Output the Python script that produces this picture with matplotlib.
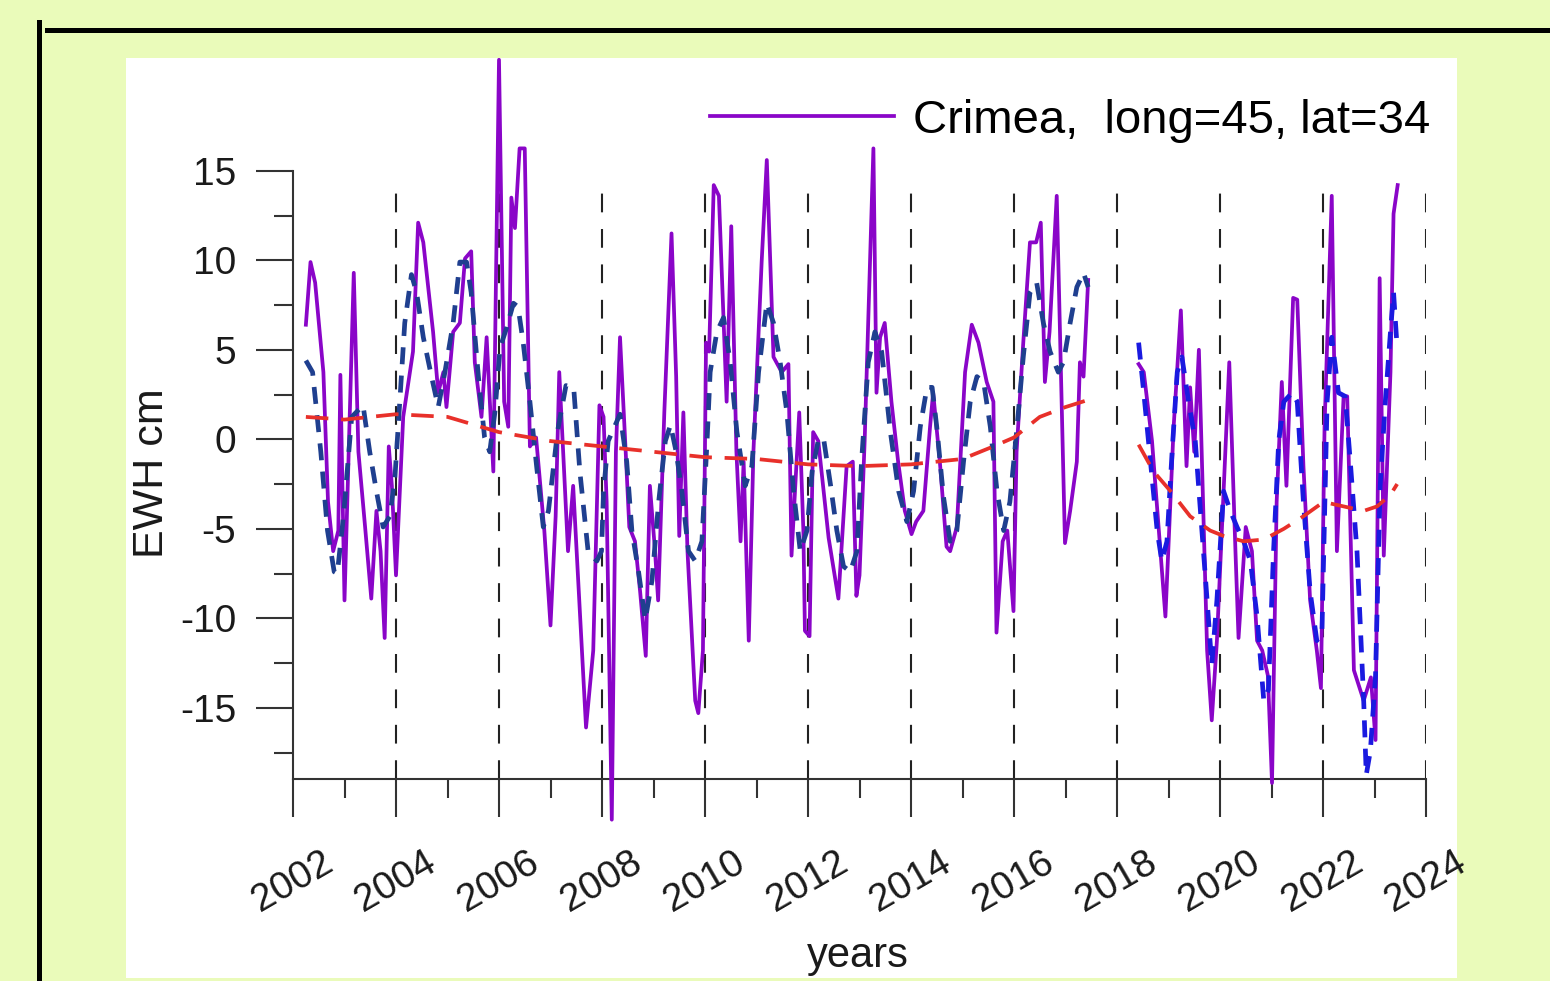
import matplotlib.pyplot as plt
import numpy as np
from matplotlib.lines import Line2D
from matplotlib.patches import Rectangle

plt.rcParams['font.family'] = ['Liberation Sans', 'DejaVu Sans']
plt.rcParams['axes.unicode_minus'] = False

# GRACE part (2002-2017), monthly EWH, cm
t1 = [2002.25, 2002.34, 2002.43, 2002.59, 2002.68, 2002.78, 2002.88, 2002.92, 2003.0, 2003.18,
      2003.27, 2003.4, 2003.52, 2003.62, 2003.7, 2003.78, 2003.86, 2003.92, 2004.0, 2004.14,
      2004.33, 2004.43, 2004.53, 2004.72, 2004.82, 2004.92, 2004.98, 2005.11, 2005.24, 2005.34,
      2005.46, 2005.53, 2005.66, 2005.76, 2005.89, 2006.0, 2006.1, 2006.18, 2006.24, 2006.31,
      2006.4, 2006.5, 2006.6, 2006.72, 2006.88, 2007.0, 2007.1, 2007.17, 2007.27, 2007.34,
      2007.44, 2007.69, 2007.83, 2007.95, 2008.03, 2008.09, 2008.19, 2008.27, 2008.35, 2008.45,
      2008.53, 2008.64, 2008.74, 2008.85, 2008.93, 2009.03, 2009.09, 2009.21, 2009.35, 2009.44,
      2009.5, 2009.58, 2009.66, 2009.81, 2009.87, 2009.96, 2010.02, 2010.08, 2010.17, 2010.27,
      2010.42, 2010.51, 2010.61, 2010.69, 2010.75, 2010.85, 2010.94, 2011.1, 2011.2, 2011.33,
      2011.49, 2011.62, 2011.68, 2011.83, 2011.91, 2011.94, 2012.03, 2012.1, 2012.2, 2012.4,
      2012.59, 2012.75, 2012.87, 2012.94, 2013.0, 2013.1, 2013.27, 2013.33, 2013.4, 2013.49,
      2013.62, 2013.75, 2013.88, 2014.01, 2014.1, 2014.24, 2014.37, 2014.43, 2014.56, 2014.69,
      2014.76, 2014.89, 2015.05, 2015.18, 2015.31, 2015.47, 2015.6, 2015.66, 2015.78, 2015.87,
      2015.99, 2016.05, 2016.18, 2016.31, 2016.43, 2016.52, 2016.6, 2016.69, 2016.83, 2016.99,
      2017.09, 2017.22, 2017.28, 2017.35, 2017.44]
ewh1 = [6.4, 9.9, 8.75, 3.75, -3.5, -6.25, -5.1, 3.6, -9.0, 9.3,
        -0.7, -4.9, -8.9, -4.0, -6.25, -11.1, -0.4, -2.6, -7.6, 1.25,
        4.9, 12.1, 11.0, 6.0, 2.6, 3.75, 1.8, 6.0, 6.5, 10.1,
        10.5, 4.3, 1.25, 5.7, -1.8, 21.2, 2.1, 0.7, 13.5, 11.8,
        16.25, 16.25, -0.4, 0.1, -5.1, -10.4, -4.3, 3.75, -2.1, -6.25,
        -2.6, -16.1, -11.8, 1.9, 1.25, -3.5, -21.25, -0.7, 5.7, -0.1,
        -4.9, -5.7, -8.5, -12.1, -2.6, -6.25, -9.0, 1.5, 11.5, 3.5,
        -5.4, 1.5, -6.25, -14.6, -15.3, -11.8, 5.4, 4.9, 14.2, 13.6,
        2.1, 11.9, -0.7, -5.7, -1.25, -11.25, -0.7, 9.9, 15.6, 4.6,
        3.75, 4.2, -6.5, 1.5, -5.1, -10.7, -11.0, 0.4, -0.1, -5.5,
        -8.9, -1.5, -1.25, -8.75, -7.6, -0.1, 16.25, 2.6, 5.7, 6.5,
        2.1, -1.25, -4.0, -5.3, -4.6, -4.0, 0.7, 2.6, -1.25, -6.0,
        -6.25, -4.9, 3.75, 6.4, 5.4, 3.2, 2.1, -10.8, -5.7, -5.1,
        -9.6, -0.7, 5.4, 11.0, 11.0, 12.1, 3.2, 6.0, 13.6, -5.8,
        -4.0, -1.25, 4.3, 3.5, 8.9]

# GRACE-FO part (2018-2023)
t2 = [2018.42, 2018.52, 2018.68, 2018.94, 2019.1, 2019.24, 2019.35, 2019.42, 2019.5, 2019.59,
      2019.75, 2019.84, 2019.94, 2020.07, 2020.18, 2020.3, 2020.36, 2020.5, 2020.62, 2020.72,
      2020.82, 2020.93, 2021.01, 2021.1, 2021.2, 2021.29, 2021.42, 2021.5, 2021.62, 2021.75,
      2021.88, 2021.96, 2022.03, 2022.17, 2022.27, 2022.4, 2022.47, 2022.6, 2022.79, 2022.93,
      2023.02, 2023.1, 2023.18, 2023.31, 2023.37, 2023.45]
ewh2 = [4.2, 3.75, -0.1, -9.9, 0.7, 7.2, -1.5, 2.9, -0.7, 5.0,
        -11.8, -15.7, -11.25, -2.9, 4.3, -6.25, -11.1, -4.9, -6.25, -11.25,
        -11.8, -13.2, -19.2, -3.5, 3.2, -2.6, 7.9, 7.8, -1.5, -9.0,
        -11.8, -13.9, 0.7, 13.6, -6.25, 2.4, 2.4, -12.9, -14.6, -13.3,
        -16.8, 9.0, -6.5, 3.75, 12.6, 14.2]

# smoothed signal (blue dashed)
ts1 = [2002.25, 2002.38, 2002.54, 2002.67, 2002.8, 2002.86, 2002.98, 2003.14, 2003.36, 2003.49,
       2003.62, 2003.75, 2003.88, 2003.98, 2004.08, 2004.17, 2004.3, 2004.4, 2004.53, 2004.69,
       2004.82, 2004.95, 2005.11, 2005.24, 2005.37, 2005.46, 2005.6, 2005.72, 2005.82, 2005.92,
       2006.02, 2006.15, 2006.28, 2006.37, 2006.47, 2006.6, 2006.73, 2006.86, 2006.96, 2007.14,
       2007.3, 2007.45, 2007.57, 2007.73, 2007.9, 2007.99, 2008.03, 2008.12, 2008.35, 2008.48,
       2008.58, 2008.71, 2008.84, 2008.97, 2009.1, 2009.23, 2009.33, 2009.44, 2009.55, 2009.68,
       2009.81, 2009.94, 2010.04, 2010.1, 2010.23, 2010.36, 2010.49, 2010.62, 2010.78, 2010.91,
       2011.04, 2011.2, 2011.33, 2011.46, 2011.59, 2011.72, 2011.85, 2011.98, 2012.08, 2012.21,
       2012.31, 2012.44, 2012.56, 2012.69, 2012.82, 2012.95, 2013.04, 2013.17, 2013.3, 2013.43,
       2013.6, 2013.76, 2013.92, 2014.05, 2014.18, 2014.31, 2014.41, 2014.5, 2014.63, 2014.76,
       2014.89, 2015.02, 2015.15, 2015.28, 2015.41, 2015.54, 2015.67, 2015.8, 2015.92, 2016.05,
       2016.18, 2016.31, 2016.44, 2016.57, 2016.7, 2016.86, 2016.96, 2017.09, 2017.22, 2017.35,
       2017.44]
sm1 = [4.4, 3.75, -0.7, -5.1, -7.4, -7.5, -4.3, 1.25, 1.9, -0.7,
       -2.9, -4.9, -4.3, -2.1, 2.4, 6.5, 9.2, 8.2, 5.7, 3.5,
       1.8, 3.75, 6.5, 9.9, 9.9, 8.2, 3.5, 0.1, -0.7, 1.5,
       5.1, 6.25, 7.6, 7.4, 5.4, 2.1, -1.5, -4.9, -4.0, 0.5,
       3.0, 2.9, -1.8, -6.25, -6.8, -6.25, -2.9, -0.1, 1.4, -1.25,
       -5.1, -7.4, -10.1, -7.9, -3.5, -0.1, 0.8, -0.7, -2.9, -6.25,
       -6.8, -5.7, -0.1, 3.75, 6.0, 6.8, 4.3, 0.4, -2.6, -1.5,
       3.75, 7.6, 6.5, 4.3, 1.5, -2.9, -6.25, -5.1, -1.8, 0.1,
       -0.1, -2.6, -5.1, -7.1, -7.4, -6.25, -1.25, 4.3, 6.0, 4.9,
       0.4, -2.9, -4.6, -2.9, 0.7, 2.9, 2.9, 0.7, -3.2, -5.7,
       -5.1, -1.25, 2.1, 3.5, 3.2, 0.7, -2.9, -5.1, -3.5, 0.4,
       4.6, 8.2, 8.75, 6.5, 4.9, 3.75, 4.3, 6.5, 8.5, 9.3,
       8.5]
ts2 = [2018.42, 2018.52, 2018.65, 2018.78, 2018.87, 2018.97, 2019.07, 2019.17, 2019.26, 2019.39,
       2019.52, 2019.62, 2019.75, 2019.84, 2019.94, 2020.07, 2020.2, 2020.33, 2020.46, 2020.59,
       2020.72, 2020.85, 2020.94, 2021.04, 2021.14, 2021.24, 2021.4, 2021.5, 2021.62, 2021.75,
       2021.88, 2021.98, 2022.08, 2022.17, 2022.3, 2022.43, 2022.53, 2022.66, 2022.79, 2022.84,
       2022.92, 2023.02, 2023.11, 2023.21, 2023.31, 2023.37, 2023.44]
sm2 = [5.4, 2.6, -1.25, -5.1, -6.8, -5.7, -0.7, 3.75, 4.6, 2.1,
       -0.1, -4.0, -9.0, -12.6, -9.0, -2.9, -4.0, -4.9, -5.7, -6.8,
       -9.9, -14.6, -14.0, -6.25, -0.1, 2.1, 2.6, 2.1, -3.5, -8.5,
       -11.25, -10.7, 2.1, 5.7, 2.6, 2.4, -1.25, -6.25, -14.6, -18.75,
       -17.4, -13.2, -2.6, 2.1, 6.0, 8.2, 5.1]

# long-term trend (red dashed)
tt1 = [2002.25, 2003.0, 2004.0, 2005.0, 2006.0, 2007.0, 2008.0, 2009.0, 2010.0, 2011.0,
       2012.0, 2013.0, 2014.0, 2015.0, 2015.6, 2016.0, 2016.5, 2017.0, 2017.44]
tr1 = [1.25, 1.1, 1.4, 1.25, 0.4, -0.1, -0.4, -0.7, -1.0, -1.1,
       -1.4, -1.5, -1.4, -1.1, -0.4, 0.1, 1.25, 1.8, 2.2]
tt2 = [2018.42, 2018.71, 2019.04, 2019.42, 2019.81, 2020.07, 2020.46, 2020.85, 2021.24, 2021.62,
       2022.01, 2022.4, 2022.79, 2023.05, 2023.31, 2023.44]
tr2 = [-0.3, -1.8, -2.9, -4.3, -5.1, -5.4, -5.7, -5.6, -5.0, -4.3,
       -3.5, -3.75, -4.0, -3.75, -3.1, -2.5]

W, H = 1550, 981
fig = plt.figure(figsize=(W / 100, H / 100), dpi=100, facecolor='#EAFBBA')

# white panel and black frame of the slide
fig.add_artist(Rectangle((126 / W, 1 - 978 / H), (1457 - 126) / W, (978 - 58) / H,
                         transform=fig.transFigure, facecolor='white', edgecolor='none', zorder=0))
fig.add_artist(Line2D([47 / W, 1], [1 - 30 / H, 1 - 30 / H], color='black', lw=3.6))
fig.add_artist(Line2D([39 / W, 39 / W], [1 - 22 / H, 0], color='black', lw=3.6))

ax = fig.add_axes([293 / W, 1 - 851 / H, (1426 - 293) / W, (851 - 58) / H])
ax.patch.set_alpha(0)
ax.set_xlim(2002, 2024)
ax.set_ylim(-23, 21.3)

ax.vlines(np.arange(2004, 2025, 2), -19, 13.8, colors='#222222', lw=1.5,
          linestyles=(0, (9, 8)), zorder=1)

ax.plot(t1, ewh1, color='#8A05C8', lw=2.7, zorder=3, label='Crimea,  long=45, lat=34')
ax.plot(t2, ewh2, color='#8A05C8', lw=2.7, zorder=3)
ax.plot(ts1, sm1, color='#1F3F8F', lw=3.4, ls=(0, (3.6, 2.4)), zorder=4)
ax.plot(ts2, sm2, color='#1A1AE0', lw=3.4, ls=(0, (3.6, 2.4)), zorder=4)
ax.plot(tt1, tr1, color='#E8302A', lw=2.7, ls=(0, (6, 3.4)), zorder=5)
ax.plot(tt2, tr2, color='#E8302A', lw=2.7, ls=(0, (6, 3.4)), zorder=5)

for s in ['top', 'right']:
    ax.spines[s].set_visible(False)
ax.spines['bottom'].set_position(('data', -19))
ax.spines['bottom'].set_bounds(2002, 2024)
ax.spines['left'].set_bounds(-19, 15)
for s in ['bottom', 'left']:
    ax.spines[s].set_color('#333333')
    ax.spines[s].set_linewidth(1.5)

ax.set_xticks(np.arange(2002, 2025, 2))
ax.set_xticks(np.arange(2003, 2024, 2), minor=True)
ax.set_xticklabels([str(y) for y in range(2002, 2025, 2)], rotation=30, ha='center', va='top')
ax.set_yticks(np.arange(-15, 16, 5))
ax.set_yticks(np.arange(-17.5, 13, 5), minor=True)
ax.tick_params(which='major', direction='out', length=27, width=1.5, color='#333333',
               labelsize=28, labelcolor='#1a1a1a')
ax.tick_params(which='minor', direction='out', length=14, width=1.5, color='#333333')
ax.tick_params(axis='x', which='major', pad=20)
ax.tick_params(axis='y', which='major', pad=14)

fig.text(152 / W, 1 - 473 / H, 'EWH cm', rotation=90, ha='center', va='center',
         fontsize=31, color='#1a1a1a')
fig.text(858 / W, 1 - 967 / H, 'years', ha='center', va='baseline',
         fontsize=30, color='#1a1a1a')

ax.legend(loc='center right', bbox_to_anchor=(1430 / W, 1 - 121 / H),
          bbox_transform=fig.transFigure, frameon=False, fontsize=34,
          handlelength=3.9, handletextpad=0.4, borderpad=0, borderaxespad=0)

fig.savefig('out.png', dpi=100, facecolor=fig.get_facecolor())
